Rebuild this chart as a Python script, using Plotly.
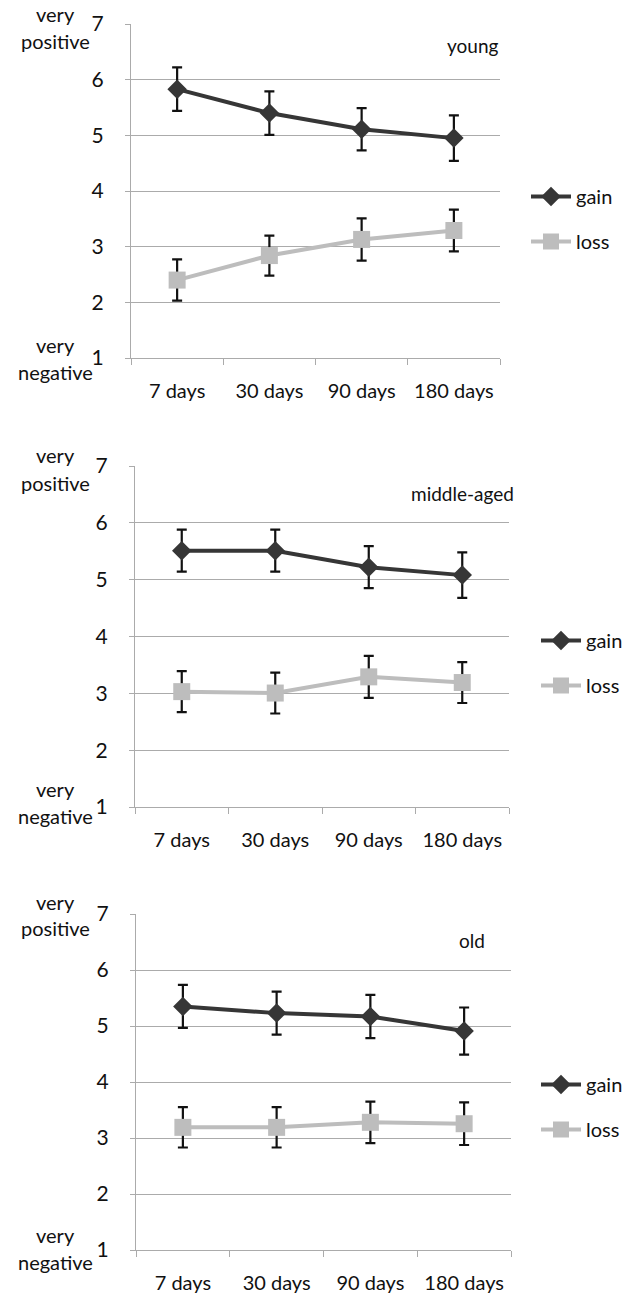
import plotly.graph_objects as go

categories = ["7 days", "30 days", "90 days", "180 days"]
panels = ["young", "middle-aged", "old"]

gain_young = [5.83, 5.40, 5.11, 4.95]
gain_young_err = [0.39, 0.39, 0.38, 0.41]
loss_young = [2.40, 2.84, 3.13, 3.29]
loss_young_err = [0.37, 0.36, 0.38, 0.375]

gain_middle = [5.51, 5.51, 5.22, 5.08]
gain_middle_err = [0.37, 0.37, 0.37, 0.40]
loss_middle = [3.03, 3.005, 3.29, 3.19]
loss_middle_err = [0.36, 0.36, 0.37, 0.36]

gain_old = [5.35, 5.23, 5.17, 4.91]
gain_old_err = [0.385, 0.385, 0.385, 0.42]
loss_old = [3.19, 3.19, 3.28, 3.255]
loss_old_err = [0.36, 0.36, 0.37, 0.38]

y_ticks = [1, 2, 3, 4, 5, 6, 7]

W, H = 637, 1293
FONT = "Lato, 'Open Sans', sans-serif"
GAIN_C = "#363636"
LOSS_C = "#bdbdbd"
GRID_C = "#ababab"

# panel geometry in pixels: (left, right, top, bottom)
geo = [(131, 500, 24, 358), (135, 509, 466, 807), (136, 511, 914, 1250)]
legend_centers = [219, 663, 1107]
legend_x = [526, 536, 536]
label_pos = [(55, 14, 41, 345, 372), (55, 455, 483, 789, 816), (55, 902, 928, 1235, 1262)]
title_pos = [(472, 45), (462, 493), (472, 940)]

data = [
    (gain_young, gain_young_err, loss_young, loss_young_err),
    (gain_middle, gain_middle_err, loss_middle, loss_middle_err),
    (gain_old, gain_old_err, loss_old, loss_old_err),
]

fig = go.Figure()
annotations = []
layout = {}
for i, (g, ge, l, le) in enumerate(data):
    n = "" if i == 0 else str(i + 1)
    leg = "legend" if i == 0 else f"legend{i+1}"
    xa, ya = "x" + n, "y" + n
    fig.add_trace(go.Scatter(
        x=categories, y=g, name="gain", xaxis=xa, yaxis=ya, legend=leg,
        mode="lines+markers", legendgroup=f"g{i}",
        line=dict(color=GAIN_C, width=4),
        marker=dict(symbol="diamond", size=15, color=GAIN_C),
        error_y=dict(type="data", array=ge, color="#111111", thickness=2.2, width=5),
    ))
    fig.add_trace(go.Scatter(
        x=categories, y=l, name="loss", xaxis=xa, yaxis=ya, legend=leg,
        mode="lines+markers", legendgroup=f"l{i}",
        line=dict(color=LOSS_C, width=4),
        marker=dict(symbol="square", size=17, color=LOSS_C),
        error_y=dict(type="data", array=le, color="#111111", thickness=2.2, width=5),
    ))
    L, R, T, B = geo[i]
    layout["xaxis" + n] = dict(
        domain=[L / W, R / W], anchor=ya, type="category", automargin=False,
        range=[-0.5, 3.5], showgrid=False, showline=True, linecolor=GRID_C,
        linewidth=1, ticks="outside", tickson="boundaries", ticklen=6,
        tickcolor=GRID_C, tickfont=dict(family=FONT, size=20, color="#111111"),
        ticklabelstandoff=15, zeroline=False, fixedrange=True,
    )
    layout["yaxis" + n] = dict(
        domain=[1 - B / H, 1 - T / H], anchor=xa, range=[1, 7], automargin=False,
        tickvals=y_ticks, showgrid=True, gridcolor=GRID_C, gridwidth=1,
        showline=True, linecolor=GRID_C, linewidth=1, ticks="outside",
        ticklen=5, tickcolor=GRID_C,
        tickfont=dict(family=FONT, size=21, color="#111111"),
        ticklabelstandoff=17, zeroline=False, fixedrange=True,
    )
    layout[leg] = dict(
        x=legend_x[i] / W, y=1 - legend_centers[i] / H, xanchor="left",
        yanchor="middle", font=dict(family=FONT, size=20, color="#111111"),
        bgcolor="rgba(0,0,0,0)", tracegroupgap=16, itemwidth=40,
    )
    cx, y1, y2, y3, y4 = label_pos[i]
    for txt, yy in (("very", y1), ("positive", y2), ("very", y3), ("negative", y4)):
        annotations.append(dict(
            text=txt, x=cx / W, y=1 - yy / H, xref="paper", yref="paper",
            xanchor="center", yanchor="middle", showarrow=False,
            font=dict(family=FONT, size=20, color="#111111"),
        ))
    tx, ty = title_pos[i]
    annotations.append(dict(
        text=panels[i], x=tx / W, y=1 - ty / H, xref="paper", yref="paper",
        xanchor="center", yanchor="middle", showarrow=False,
        font=dict(family=FONT, size=19, color="#111111"),
    ))

fig.update_layout(
    width=W, height=H, margin=dict(l=0, r=0, t=0, b=0, autoexpand=False),
    paper_bgcolor="white", plot_bgcolor="white",
    annotations=annotations, showlegend=True, **layout,
)
fig.write_html(
    "out.html",
    config={"displayModeBar": False},
    post_script="document.body.style.margin='0';document.body.style.overflow='hidden';",
)
